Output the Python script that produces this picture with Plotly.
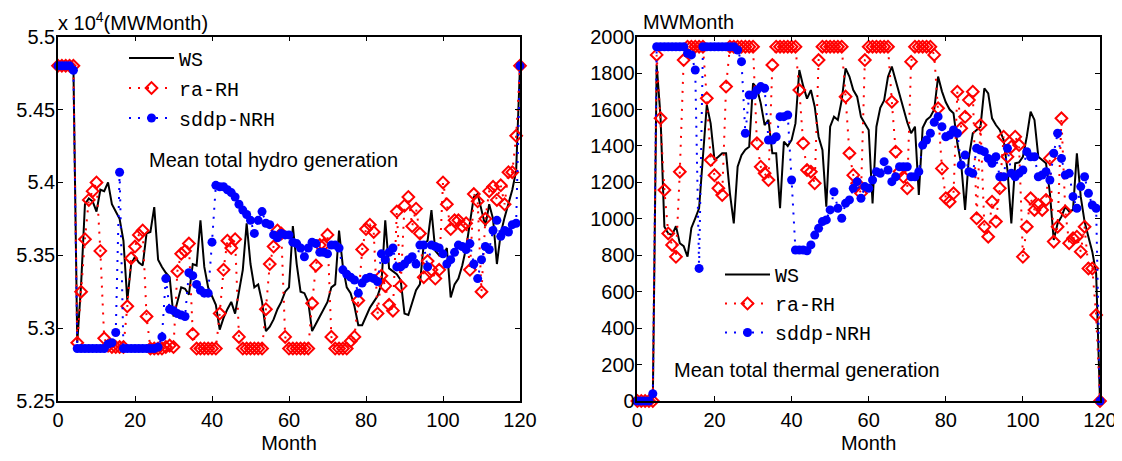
import plotly.graph_objects as go

# ---------------- data ----------------
months = list(range(0, 121))

hydro_ws = [
    5.48, 5.48, 5.48, 5.48, 5.48, 5.29, 5.33, 5.385, 5.389, 5.387,
    5.38, 5.395, 5.394, 5.40, 5.385, 5.38, 5.375, 5.36, 5.319, 5.344,
    5.349, 5.345, 5.343, 5.365, 5.366, 5.383, 5.347, 5.342, 5.338, 5.335,
    5.308, 5.318, 5.328, 5.327, 5.323, 5.344, 5.343, 5.374, 5.342, 5.328,
    5.322, 5.316, 5.299, 5.307, 5.313, 5.318, 5.31, 5.326, 5.34, 5.372,
    5.344, 5.328, 5.33, 5.318, 5.298, 5.301, 5.306, 5.313, 5.318, 5.325,
    5.328, 5.37, 5.344, 5.325, 5.324, 5.318, 5.298, 5.303, 5.308, 5.314,
    5.318, 5.328, 5.33, 5.367, 5.342, 5.328, 5.324, 5.315, 5.302, 5.302,
    5.308, 5.314, 5.318, 5.322, 5.33, 5.374, 5.341, 5.339, 5.337, 5.333,
    5.31, 5.309, 5.318, 5.326, 5.33, 5.358, 5.36, 5.381, 5.353, 5.35,
    5.349, 5.355, 5.321, 5.33, 5.334, 5.343, 5.355, 5.372, 5.39, 5.392,
    5.38, 5.37, 5.385, 5.375, 5.344, 5.365, 5.376, 5.385, 5.395, 5.408,
    5.48,
]

hydro_ra = [
    5.48, 5.48, 5.48, 5.48, 5.48, 5.29, 5.325, 5.361, 5.388, 5.394,
    5.40, 5.353, 5.293, 5.288, 5.287, 5.287, 5.287, 5.287, 5.315, 5.348,
    5.356, 5.364, 5.367, 5.308, 5.286, 5.286, 5.286, 5.286, 5.287, 5.288,
    5.287, 5.339, 5.351, 5.353, 5.358, 5.296, 5.286, 5.286, 5.286, 5.286,
    5.286, 5.286, 5.31, 5.34, 5.36, 5.355, 5.361, 5.294, 5.286, 5.286,
    5.286, 5.286, 5.286, 5.286, 5.313, 5.344, 5.356, 5.367, 5.365, 5.294,
    5.286, 5.286, 5.286, 5.286, 5.286, 5.286, 5.317, 5.343, 5.357, 5.357,
    5.364, 5.294, 5.286, 5.286, 5.286, 5.286, 5.291, 5.294, 5.319, 5.354,
    5.368, 5.371, 5.366, 5.31, 5.336, 5.329, 5.316, 5.312, 5.38, 5.329,
    5.384, 5.39, 5.37, 5.382, 5.365, 5.335, 5.346, 5.34, 5.334, 5.34,
    5.40, 5.385, 5.368, 5.374, 5.374, 5.37, 5.372, 5.34, 5.392, 5.387,
    5.325, 5.375, 5.394, 5.397, 5.388, 5.398, 5.385, 5.407, 5.407, 5.432,
    5.48,
]

hydro_sddp = [
    5.48, 5.48, 5.48, 5.48, 5.477, 5.286, 5.286, 5.286, 5.286, 5.286,
    5.286, 5.286, 5.286, 5.289, 5.29, 5.297, 5.407, 5.286, 5.286, 5.286,
    5.286, 5.286, 5.286, 5.286, 5.286, 5.286, 5.287, 5.294, 5.334, 5.313,
    5.312, 5.31, 5.309, 5.308, 5.338, 5.336, 5.33, 5.326, 5.324, 5.324,
    5.359, 5.398, 5.397, 5.397, 5.395, 5.393, 5.39, 5.385, 5.381, 5.378,
    5.374, 5.365, 5.374, 5.38, 5.372, 5.371, 5.364, 5.362, 5.365, 5.364,
    5.364, 5.359, 5.358, 5.355, 5.349, 5.355, 5.359, 5.358, 5.352, 5.352,
    5.351, 5.357, 5.357, 5.355, 5.34, 5.337, 5.335, 5.333, 5.324, 5.331,
    5.334, 5.335, 5.334, 5.332, 5.351, 5.347, 5.352, 5.355, 5.342, 5.342,
    5.344, 5.347, 5.349, 5.344, 5.357, 5.357, 5.342, 5.357, 5.356, 5.355,
    5.351, 5.344, 5.347, 5.352, 5.357, 5.356, 5.354, 5.358, 5.344, 5.334,
    5.347, 5.356, 5.354, 5.367, 5.374, 5.363, 5.367, 5.366, 5.371, 5.372,
    5.48,
]

thermal_ws = [
    0, 0, 0, 0, 0, 1845, 1561, 957, 920, 910,
    960, 866, 850, 792, 950, 1003, 1058, 1341, 1625, 1524,
    1323, 1341, 1360, 1360, 1140, 975, 1286, 1350, 1380, 1396,
    1744, 1717, 1634, 1515, 1543, 1360, 1360, 1058, 1424, 1400,
    1433, 1524, 1817, 1730, 1660, 1707, 1616, 1451, 1378, 1067,
    1506, 1561, 1543, 1652, 1826, 1781, 1707, 1671, 1560, 1524,
    1488, 1085, 1506, 1610, 1650, 1780, 1836, 1760, 1680, 1600,
    1530, 1470, 1506, 1131, 1500, 1543, 1561, 1600, 1781, 1700,
    1640, 1600, 1580, 1415, 1300, 1049, 1341, 1470, 1488, 1506,
    1717, 1689, 1552, 1515, 1488, 1433, 1268, 975, 1305, 1310,
    1341, 1450, 1588, 1543, 1341, 1323, 1305, 1140, 884, 975,
    1012, 1067, 1040, 1050, 1360, 1122, 985, 900, 820, 700,
    0,
]

thermal_ra = [
    0, 0, 0, 0, 0, 1900, 1552, 1158, 920, 857,
    792, 1259, 1872, 1945, 1945, 1945, 1945, 1945, 1662, 1323,
    1240, 1168, 1131, 1726, 1945, 1945, 1945, 1945, 1945, 1945,
    1945, 1415, 1286, 1250, 1213, 1845, 1945, 1945, 1945, 1945,
    1945, 1945, 1707, 1415, 1268, 1259, 1195, 1872, 1945, 1945,
    1945, 1945, 1945, 1945, 1671, 1360, 1240, 1195, 1140, 1872,
    1945, 1945, 1945, 1945, 1945, 1945, 1643, 1369, 1260, 1231,
    1168, 1863, 1945, 1945, 1945, 1945, 1945, 1900, 1607, 1277,
    1113, 1094, 1140, 1698, 1497, 1560, 1652, 1698, 1003, 1515,
    957, 902, 1094, 985, 1168, 1451, 1341, 1396, 1451, 1405,
    792, 957, 1113, 1049, 1076, 1049, 1104, 1332, 875, 957,
    1552, 1040, 866, 893, 902, 820, 957, 728, 728, 472,
    0,
]

thermal_sddp = [
    0, 0, 0, 0, 40, 1945, 1945, 1945, 1945, 1945,
    1945, 1945, 1945, 1909, 1900, 1817, 728, 1945, 1945, 1945,
    1945, 1945, 1945, 1945, 1945, 1945, 1927, 1863, 1470, 1680,
    1680, 1707, 1726, 1717, 1433, 1433, 1451, 1561, 1561, 1570,
    1213, 829, 829, 829, 825, 857, 911, 948, 985, 994,
    1049, 1149, 1058, 1003, 1085, 1104, 1168, 1204, 1113, 1177,
    1168, 1213, 1259, 1250, 1314, 1268, 1204, 1231, 1286, 1286,
    1286, 1231, 1231, 1259, 1405, 1433, 1470, 1530, 1561, 1506,
    1451, 1460, 1488, 1470, 1296, 1350, 1259, 1250, 1387, 1378,
    1369, 1332, 1305, 1341, 1231, 1231, 1387, 1250, 1231, 1250,
    1268, 1369, 1341, 1341, 1231, 1241, 1259, 1213, 1360, 1470,
    1332, 1241, 1250, 1122, 1058, 1177, 1231, 1140, 1076, 1058,
    0,
]

series_names = ["WS", "ra-RH", "sddp-NRH"]
x_ticks = [0, 20, 40, 60, 80, 100, 120]
hydro_ticks = [5.25, 5.3, 5.35, 5.4, 5.45, 5.5]
hydro_tick_text = ["5.25", "5.3", "5.35", "5.4", "5.45", "5.5"]
thermal_ticks = [0, 200, 400, 600, 800, 1000, 1200, 1400, 1600, 1800, 2000]

# ---------------- figure ----------------
# the page body has an 8px margin, so the figure is 8px smaller and all
# layout pixel positions below are page positions minus 8
OFF = 8
W, H = 1122 - OFF, 461 - OFF
SANS = "Liberation Sans, Arial, Helvetica, sans-serif"
MONO = "Liberation Mono, Courier New, monospace"


def px_x(p):
    return (p - OFF) / W


def px_y(p):
    return 1 - (p - OFF) / H


fig = go.Figure()


def add_panel(xa, ya, legend_id, ws, ra, sd):
    fig.add_trace(go.Scatter(
        x=months, y=ws, mode="lines", name=series_names[0],
        line=dict(color="black", width=2), xaxis=xa, yaxis=ya,
        legend=legend_id, legendgroup=legend_id + "a", cliponaxis=False))
    fig.add_trace(go.Scatter(
        x=months, y=ra, mode="lines+markers", name=series_names[1],
        line=dict(color="#ff0000", width=2, dash="2px,7px"),
        marker=dict(symbol="diamond-open", size=9, color="#ff0000",
                    line=dict(width=2, color="#ff0000")),
        xaxis=xa, yaxis=ya, legend=legend_id, legendgroup=legend_id + "b",
        cliponaxis=False))
    fig.add_trace(go.Scatter(
        x=months, y=sd, mode="lines+markers", name=series_names[2],
        line=dict(color="#0000ff", width=2, dash="2px,7px"),
        marker=dict(symbol="circle", size=9, color="#0000ff"),
        xaxis=xa, yaxis=ya, legend=legend_id, legendgroup=legend_id + "c",
        cliponaxis=False))


add_panel("x", "y", "legend", hydro_ws, hydro_ra, hydro_sddp)
add_panel("x2", "y2", "legend2", thermal_ws, thermal_ra, thermal_sddp)

axis_common = dict(
    showline=True, linecolor="black", linewidth=1.5, mirror="ticks",
    ticks="inside", ticklen=5, tickwidth=1, tickcolor="black",
    showgrid=False, zeroline=False, automargin=False,
    tickfont=dict(family=SANS, size=20, color="black"),
)

y_dom = [px_y(401), px_y(36.7)]
title_font = dict(family=SANS, size=20, color="black")

fig.update_layout(
    template="none",
    width=W, height=H,
    margin=dict(l=0, r=0, t=0, b=0, pad=0),
    paper_bgcolor="white", plot_bgcolor="white",
    showlegend=True,
    xaxis=dict(domain=[px_x(58), px_x(520)], range=[0, 120], tickvals=x_ticks,
               title=dict(text="Month", font=title_font, standoff=6),
               anchor="y", **axis_common),
    yaxis=dict(domain=y_dom, range=[5.25, 5.5], tickvals=hydro_ticks,
               ticktext=hydro_tick_text, anchor="x", ticklabelstandoff=-3,
               **axis_common),
    xaxis2=dict(domain=[px_x(637.4), px_x(1100)], range=[0, 120], tickvals=x_ticks,
                title=dict(text="Month", font=title_font, standoff=6),
                anchor="y2", **axis_common),
    yaxis2=dict(domain=y_dom, range=[0, 2000], tickvals=thermal_ticks,
                anchor="x2", ticklabelstandoff=-3, **axis_common),
    legend=dict(x=px_x(124), y=px_y(38.5), xanchor="left", yanchor="top",
                bgcolor="rgba(0,0,0,0)", borderwidth=0, itemwidth=45,
                traceorder="grouped", tracegroupgap=1,
                font=dict(family=MONO, size=20, color="black")),
    legend2=dict(x=px_x(720), y=px_y(255), xanchor="left", yanchor="top",
                 bgcolor="rgba(0,0,0,0)", borderwidth=0, itemwidth=45,
                 traceorder="grouped", tracegroupgap=0,
                 font=dict(family=MONO, size=20, color="black")),
    annotations=[
        dict(text="Mean total hydro generation", x=px_x(147), y=px_y(160),
             xref="paper", yref="paper", xanchor="left", yanchor="middle",
             showarrow=False, font=title_font),
        dict(text="Mean total thermal generation", x=px_x(672), y=px_y(370),
             xref="paper", yref="paper", xanchor="left", yanchor="middle",
             showarrow=False, font=title_font),
        dict(text="x 10<sup>4</sup>(MWMonth)", x=px_x(56), y=px_y(21),
             xref="paper", yref="paper", xanchor="left", yanchor="middle",
             showarrow=False, font=title_font),
        dict(text="MWMonth", x=px_x(641), y=px_y(21.5),
             xref="paper", yref="paper", xanchor="left", yanchor="middle",
             showarrow=False, font=title_font),
    ],
)

fig.write_html("out.html")
